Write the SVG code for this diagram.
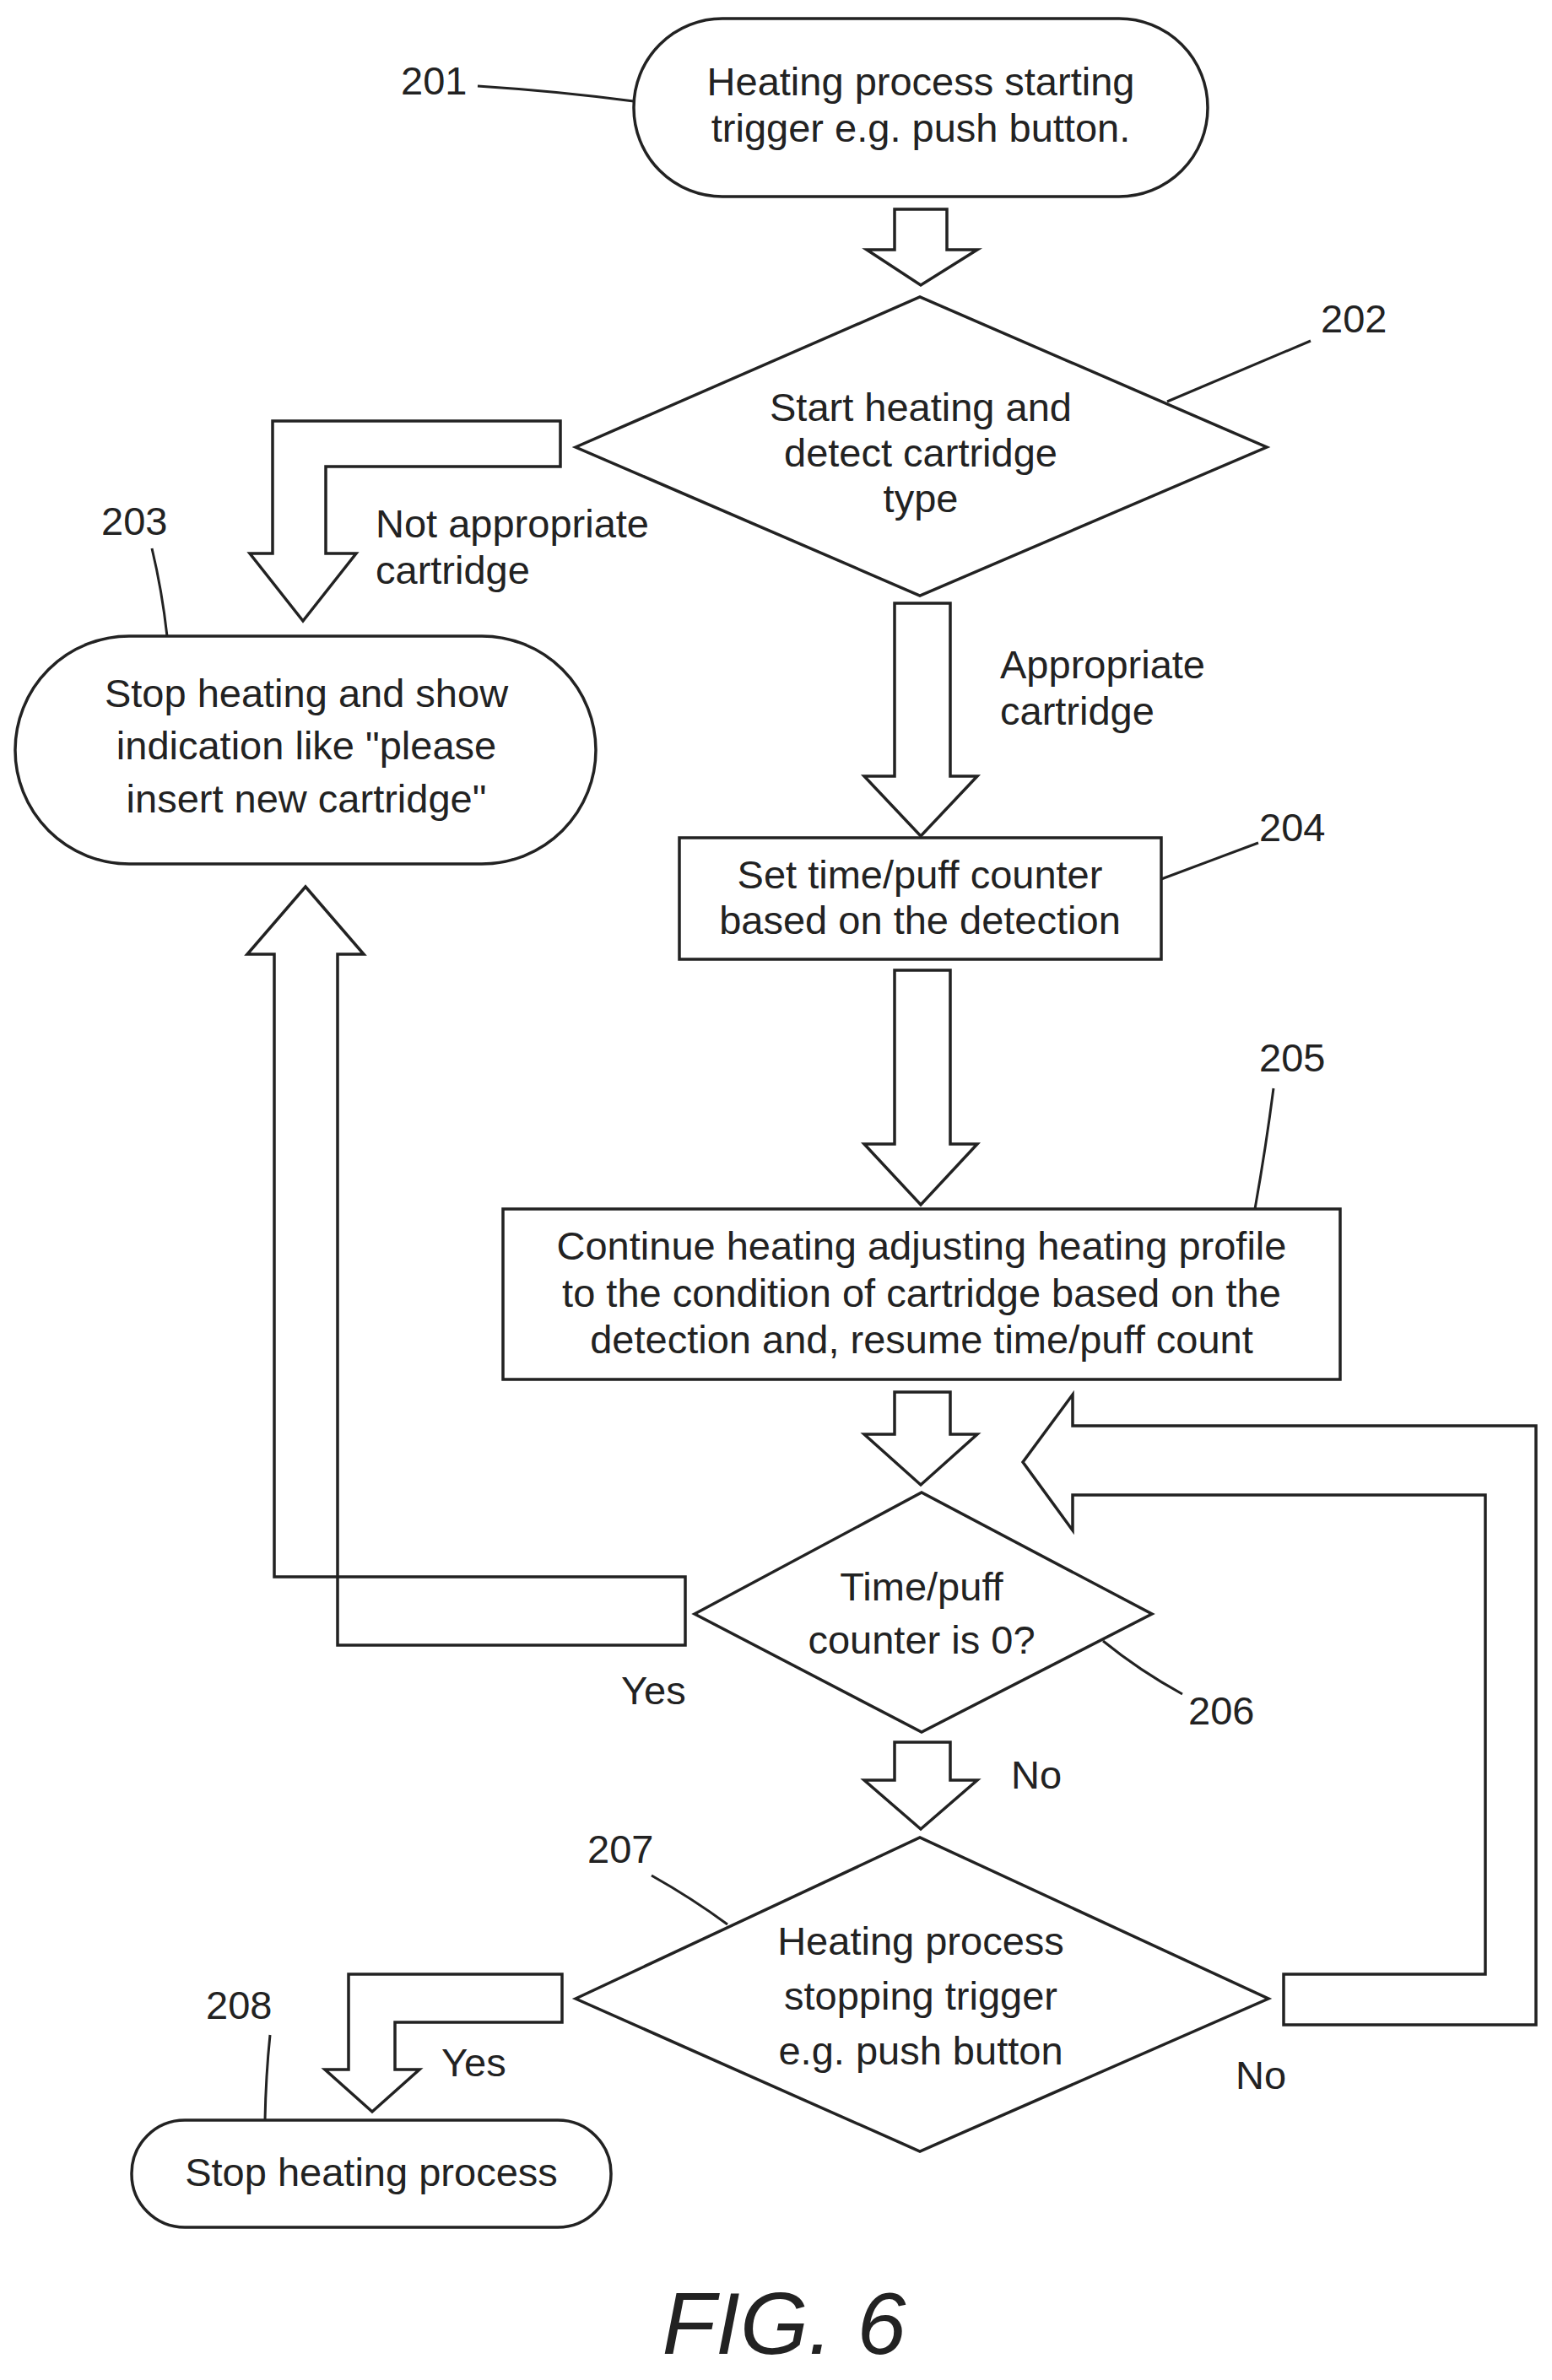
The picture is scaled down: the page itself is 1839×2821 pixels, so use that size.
<svg xmlns="http://www.w3.org/2000/svg" width="1839" height="2821" viewBox="0 0 1839 2821">
<style>
.s{fill:#fff;stroke:#222;stroke-width:3.5}
.a{fill:#fff;stroke:#222;stroke-width:3.5;stroke-linejoin:miter}
.l{fill:none;stroke:#222;stroke-width:3}
text{font-family:"Liberation Sans",Arial,sans-serif;font-size:47px;fill:#222}
.c{text-anchor:middle}
</style>
<rect width="1839" height="2821" fill="#fff"/>
<g id="n201"><rect class="s" x="751" y="22" width="680" height="211" rx="105"/>
<text class="c" x="1091" y="113">Heating process starting</text><text class="c" x="1091" y="168">trigger e.g. push button.</text>
<text x="475" y="112">201</text><path class="l" d="M566,102 Q660,108 751,120"/></g>
<g id="n202"><polygon class="s" points="682,530 1090,352 1501,530 1090,706"/>
<text class="c" x="1091" y="499">Start heating and</text><text class="c" x="1091" y="553">detect cartridge</text><text class="c" x="1091" y="607">type</text>
<text x="1565" y="394">202</text><path class="l" d="M1553,404 L1383,476"/></g>
<g id="n203"><rect class="s" x="18" y="754" width="688" height="270" rx="135"/>
<text class="c" x="363" y="838">Stop heating and show</text><text class="c" x="363" y="900">indication like "please</text><text class="c" x="363" y="963">insert new cartridge"</text>
<text x="120" y="634">203</text><path class="l" d="M180,650 Q192,700 198,754"/></g>
<g id="n204"><rect class="s" x="805" y="993" width="571" height="144"/>
<text class="c" x="1090" y="1053">Set time/puff counter</text><text class="c" x="1090" y="1107">based on the detection</text>
<text x="1492" y="997">204</text><path class="l" d="M1491,999 L1376,1042"/></g>
<g id="n205"><rect class="s" x="596" y="1433" width="992" height="202"/>
<text class="c" x="1092" y="1493">Continue heating adjusting heating profile</text><text class="c" x="1092" y="1549">to the condition of cartridge based on the</text><text class="c" x="1092" y="1604">detection and, resume time/puff count</text>
<text x="1492" y="1270">205</text><path class="l" d="M1509,1290 Q1500,1360 1487,1433"/></g>
<g id="n206"><polygon class="s" points="823,1913 1092,1769 1365,1913 1092,2053"/>
<text class="c" x="1092" y="1897">Time/puff</text><text class="c" x="1092" y="1960">counter is 0?</text>
<text x="1408" y="2044">206</text><path class="l" d="M1401,2008 Q1350,1980 1307,1945"/></g>
<g id="n207"><polygon class="s" points="682,2369 1090,2178 1503,2369 1090,2550"/>
<text class="c" x="1091" y="2317">Heating process</text><text class="c" x="1091" y="2382">stopping trigger</text><text class="c" x="1091" y="2447">e.g. push button</text>
<text x="696" y="2208">207</text><path class="l" d="M772,2223 Q820,2250 862,2281"/></g>
<g id="n208"><rect class="s" x="156" y="2513" width="568" height="127" rx="63"/>
<text class="c" x="440" y="2591">Stop heating process</text>
<text x="244" y="2393">208</text><path class="l" d="M320,2412 Q315,2460 314,2513"/></g>
<g id="connectors">
<polygon class="a" points="1060,248 1122,248 1122,296 1158,296 1091,338 1027,296 1060,296"/>
<polygon class="a" points="664,499 323,499 323,656 296,656 359,736 422,656 386,656 386,553 664,553"/>
<polygon class="a" points="1060,715 1126,715 1126,920 1158,920 1091,991 1024,920 1060,920"/>
<polygon class="a" points="1060,1150 1126,1150 1126,1356 1158,1356 1091,1428 1024,1356 1060,1356"/>
<polygon class="a" points="1060,1650 1126,1650 1126,1700 1158,1700 1091,1760 1024,1700 1060,1700"/>
<polygon class="a" points="812,1869 325,1869 325,1131 293,1131 362,1051 431,1131 400,1131 400,1950 812,1950"/>
<polygon class="a" points="1060,2065 1126,2065 1126,2110 1158,2110 1091,2168 1024,2110 1060,2110"/>
<polygon class="a" points="1521,2340 1760,2340 1760,1772 1271,1772 1271,1814 1212,1733 1271,1653 1271,1690 1820,1690 1820,2400 1521,2400"/>
<polygon class="a" points="666,2340 413,2340 413,2453 385,2453 441,2503 497,2453 468,2453 468,2397 666,2397"/>
<text x="445" y="637">Not appropriate</text><text x="445" y="692">cartridge</text>
<text x="1185" y="804">Appropriate</text><text x="1185" y="859">cartridge</text>
<text x="736" y="2020">Yes</text>
<text x="1198" y="2120">No</text>
<text x="1464" y="2476">No</text>
<text x="523" y="2461">Yes</text>
</g>
<text class="c" x="929" y="2790" style="font-size:104px;font-style:italic">FIG. 6</text>
</svg>
